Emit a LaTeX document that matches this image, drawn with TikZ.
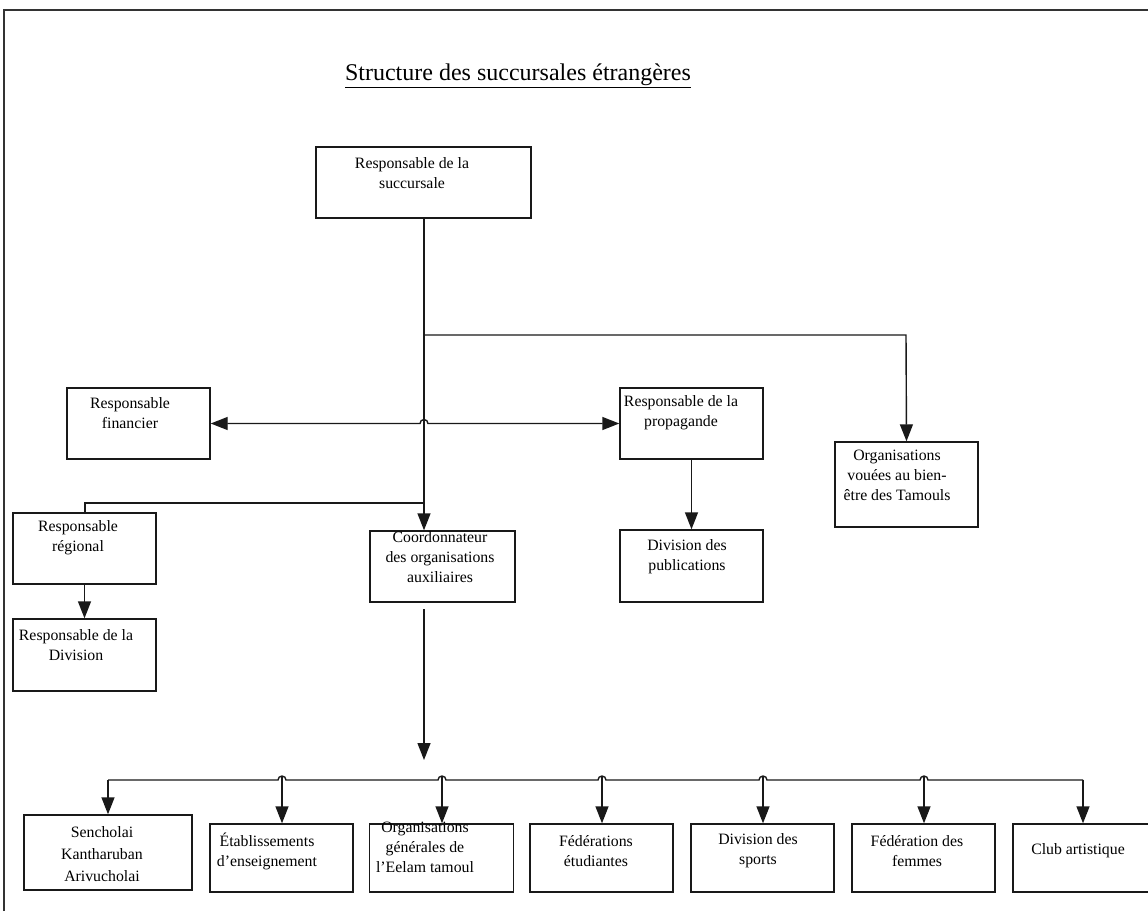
\documentclass[tikz,border=0pt]{standalone}
\usepackage{fontspec}
\setmainfont{Liberation Serif}
\usetikzlibrary{arrows.meta}
\begin{document}
\begin{tikzpicture}[x=1pt,y=-1pt,
  ln/.style={line width=1.4pt, draw=black!90},
  arr/.style={ln, -{Triangle[length=17pt,width=13pt]}},
  darr/.style={ln, {Triangle[length=17pt,width=13pt]}-{Triangle[length=17pt,width=13pt]}},
  box/.style={draw=black!90, line width=1.4pt, inner sep=0pt, fill=none},
  lbl/.style={align=center, inner sep=0pt, font=\fontsize{15.8}{20}\selectfont}]
\useasboundingbox (0,0) rectangle (1148,911);
% frame
\coordinate (fbl) at (4,911);
\coordinate (ftl) at (4,10);
\coordinate (ftr) at (1148,10);
\draw[line width=1.2pt, draw=black!80] (fbl) -- (ftl) -- (ftr);
% title
\node[inner sep=0pt, font=\fontsize{24}{28}\selectfont] (title) at (518,76) {\underline{Structure des succursales étrangères}};
% boxes
\node[box, minimum width=215pt, minimum height=71pt] (succ) at (423.5,182.5) {};
\node[box, minimum width=143pt, minimum height=71pt] (fin) at (138.5,423.5) {};
\node[box, minimum width=143pt, minimum height=71pt] (prop) at (691.5,423.5) {};
\node[box, minimum width=143pt, minimum height=72pt] (pub) at (691.5,566) {};
\node[box, minimum width=143pt, minimum height=85pt] (bien) at (906.5,484.5) {};
\node[box, minimum width=143pt, minimum height=71pt] (reg) at (84.5,548.5) {};
\node[box, minimum width=143pt, minimum height=72pt] (div) at (84.5,655) {};
\node[box, minimum width=145pt, minimum height=71pt] (coord) at (442.5,566.5) {};
\node[box, minimum width=168pt, minimum height=75pt] (sen) at (108,852.5) {};
\node[box, minimum width=143pt, minimum height=68pt] (etab) at (281.5,858) {};
\node[box, minimum width=144pt, minimum height=68pt] (org) at (441.5,858) {};
\node[box, minimum width=143pt, minimum height=68pt] (fed) at (601.5,858) {};
\node[box, minimum width=143pt, minimum height=68pt] (dsp) at (762.5,858) {};
\node[box, minimum width=143pt, minimum height=68pt] (fem) at (923.5,858) {};
\node[box, minimum width=140pt, minimum height=68pt] (club) at (1083,858) {};
% texts
\node[lbl] (tsucc) at (412,173) {Responsable de la\\succursale};
\node[lbl] (tfin) at (130,413) {Responsable\\financier};
\node[lbl] (tprop) at (681,413) {Responsable de la\\propagande};
\node[lbl] (tpub) at (687,557) {Division des\\publications};
\node[lbl] (tbien) at (897,475) {Organisations\\vouées au bien-\\être des Tamouls};
\node[lbl] (treg) at (78,538) {Responsable\\régional};
\node[lbl] (tdiv) at (76,645) {Responsable de la\\Division};
\node[lbl] (tcoord) at (440,557) {Coordonnateur\\des organisations\\auxiliaires};
\node[lbl, font=\fontsize{15.8}{22}\selectfont] (tsen) at (102,854) {Sencholai\\Kantharuban\\Arivucholai};
\node[lbl] (tetab) at (267,851) {Établissements\\d’enseignement};
\node[lbl] (torg) at (425,847) {Organisations\\générales de\\l’Eelam tamoul};
\node[lbl] (tfed) at (596,851) {Fédérations\\étudiantes};
\node[lbl] (tdsp) at (758,851) {Division des\\sports};
\node[lbl] (tfem) at (917,851) {Fédération des\\femmes};
\node[lbl] (tclub) at (1078,851) {Club artistique};
% junction coordinates
\coordinate (jb) at (424,335);
\coordinate (jr) at (906,335);
\coordinate (jl) at (424,503);
\coordinate (jll) at (85,503);
\coordinate (hopc) at (424,423.5);
\coordinate (cs) at (424,609);
\coordinate (ce) at (424,760);
\coordinate (busL) at (108,780);
\coordinate (busR) at (1083,780);
% trunk
\draw[arr] (succ.south -| jb) -- (coord.north -| jb);
\draw[arr] (jb) -- (jr) -- (bien.north);
\draw[ln] (jl) -- (jll) -- (reg.north -| jll);
\draw[arr] (reg.south) -- (div.north);
\draw[arr] (prop.south) -- (pub.north);
% double arrow with hop
\draw[darr] (fin.east) -- ([xshift=-4pt]hopc) arc[start angle=180,end angle=360,radius=4] -- (prop.west);
% coordinator to bus
\draw[arr] (cs) -- (ce);
% bus with hops
\draw[ln] (busL)
  -- (278,780) arc[start angle=180,end angle=360,radius=4]
  -- (438,780) arc[start angle=180,end angle=360,radius=4]
  -- (598,780) arc[start angle=180,end angle=360,radius=4]
  -- (759,780) arc[start angle=180,end angle=360,radius=4]
  -- (920,780) arc[start angle=180,end angle=360,radius=4]
  -- (busR);
\draw[arr] (busL) -- (sen.north);
\draw[arr] (282,776) -- (etab.north -| 282,0);
\draw[arr] (442,776) -- (org.north -| 442,0);
\draw[arr] (602,776) -- (fed.north -| 602,0);
\draw[arr] (763,776) -- (dsp.north -| 763,0);
\draw[arr] (924,776) -- (fem.north -| 924,0);
\draw[arr] (busR) -- (club.north);
\end{tikzpicture}
\end{document}
